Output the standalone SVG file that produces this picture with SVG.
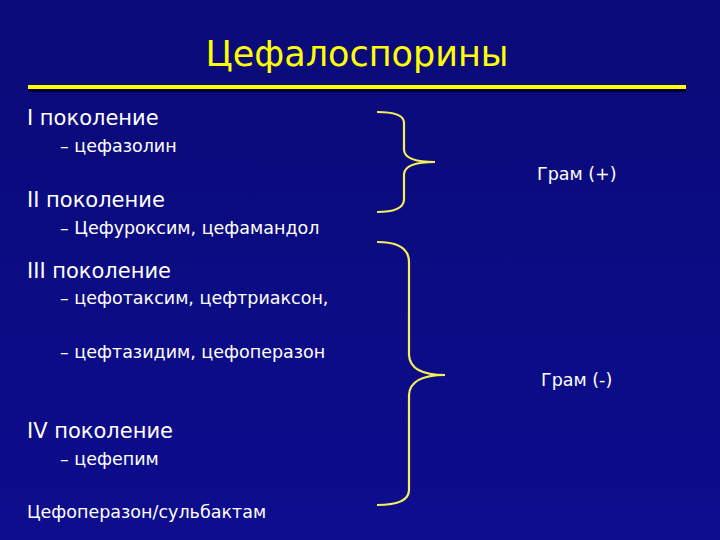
<svg xmlns="http://www.w3.org/2000/svg" width="720" height="540" viewBox="0 0 720 540">
<defs>
<linearGradient id="bg" x1="0" y1="0" x2="0" y2="1"><stop offset="0" stop-color="#0a0a78"/><stop offset="1" stop-color="#0d0d8e"/></linearGradient>
</defs>
<style>
.t{font-family:"DejaVu Sans",sans-serif;fill:#fff}
.h{font-size:21px}.s{font-size:17.5px}
.b{fill:none;stroke:#f5ef5a;stroke-width:2.2}
</style>
<rect width="720" height="540" fill="url(#bg)"/>
<g id="title">
<text x="357" y="66" text-anchor="middle" style="font-family:'DejaVu Sans',sans-serif;font-size:35px;fill:#ffff00">Цефалоспорины</text>
<rect x="28" y="89" width="658" height="3" fill="#000030"/>
<rect x="28" y="85" width="658" height="4" fill="#ffff00"/>
</g>
<g id="list">
<text class="t h" x="27" y="125">I поколение</text>
<text class="t s" x="60" y="152">– цефазолин</text>
<text class="t h" x="27" y="207">II поколение</text>
<text class="t s" x="60" y="234">– Цефуроксим, цефамандол</text>
<text class="t h" x="27" y="278">III поколение</text>
<text class="t s" x="60" y="304">– цефотаксим, цефтриаксон,</text>
<text class="t s" x="60" y="358">– цефтазидим, цефоперазон</text>
<text class="t h" x="27" y="438">IV поколение</text>
<text class="t s" x="60" y="465">– цефепим</text>
<text class="t s" x="27" y="518">Цефоперазон/сульбактам</text>
</g>
<g id="labels">
<text class="t s" x="537" y="180">Грам (+)</text>
<text class="t s" x="541" y="386">Грам (-)</text>
</g>
<g id="connectors">
<path class="b" d="M377,112 Q403,112 404,122 L404,150 Q405,162 435,162 Q405,162 404,174 L404,200 Q403,212 377,212"/>
<path class="b" d="M377,242 Q409,242 409,262 L409,355 Q410,375 445,375 Q410,375 409,395 L409,490 Q409,505 377,505"/>
</g>
</svg>
